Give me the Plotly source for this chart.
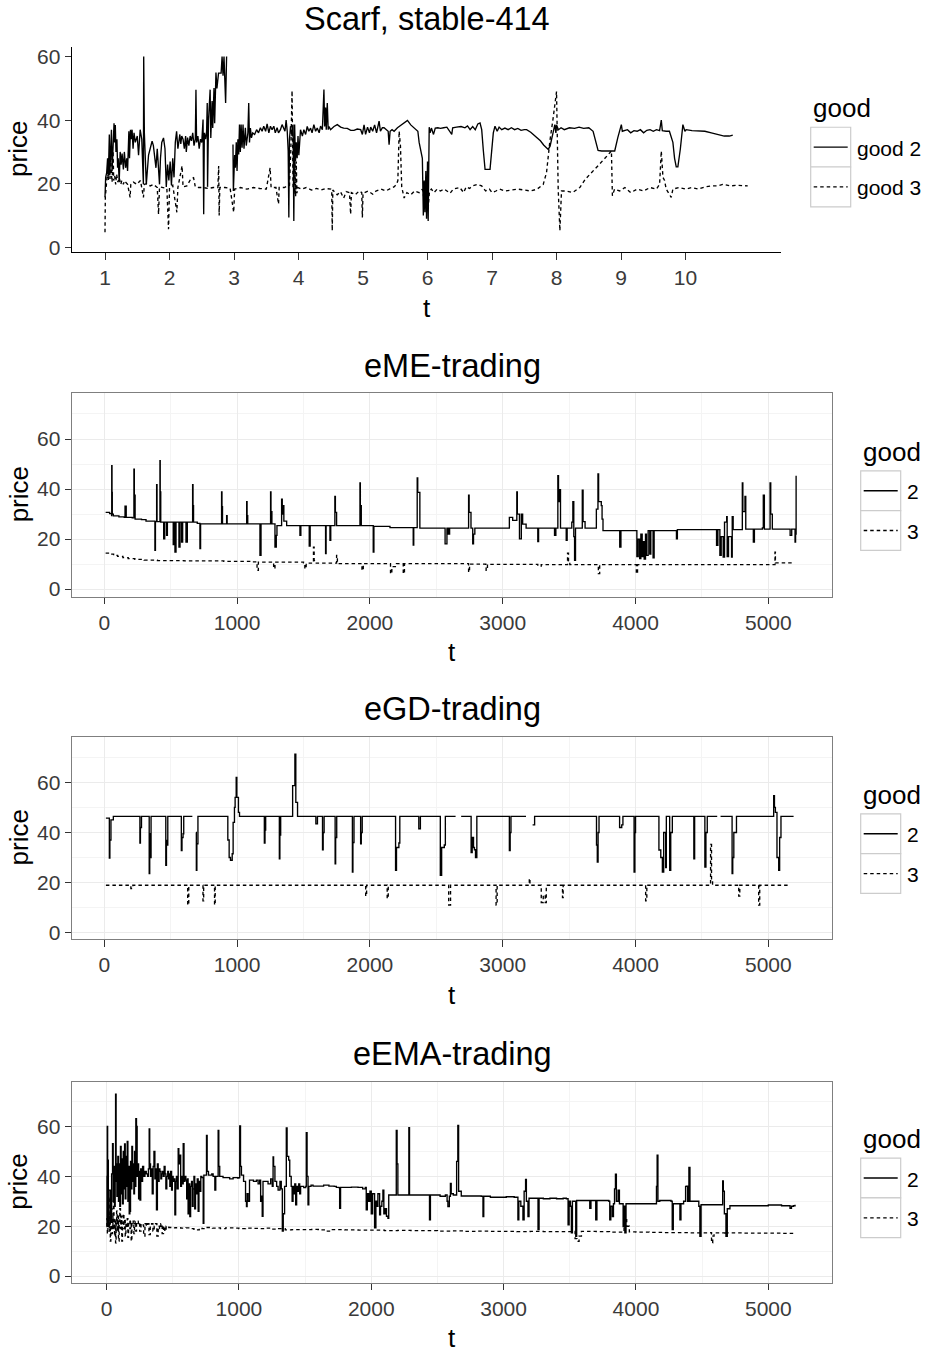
import plotly.graph_objects as go

FONT = "Liberation Sans, Arial, sans-serif"
W, H = 928, 1356

# ---------------- data (t, price) ----------------
scarf_good2 = [
    (1.000, 15.7), (1.010, 22.0), (1.026, 23.5), (1.040, 28.0), (1.052, 22.5), (1.067, 35.5), (1.075, 23.0),
    (1.090, 30.0), (1.100, 37.0), (1.110, 24.0), (1.125, 33.0), (1.140, 39.0), (1.150, 33.0), (1.160, 38.5),
    (1.170, 30.0), (1.185, 34.0), (1.195, 25.0), (1.205, 28.0), (1.220, 20.5), (1.235, 30.0), (1.250, 26.0),
    (1.265, 29.5), (1.285, 24.5), (1.300, 30.0), (1.320, 25.0), (1.337, 28.0), (1.350, 24.0), (1.370, 36.5),
    (1.380, 28.0), (1.395, 37.0), (1.405, 34.0), (1.420, 37.0), (1.435, 31.0), (1.450, 36.0), (1.470, 33.0),
    (1.500, 35.0), (1.520, 29.0), (1.545, 37.0), (1.570, 34.0), (1.595, 19.8), (1.600, 60.0), (1.610, 36.0),
    (1.640, 19.8), (1.660, 24.0), (1.675, 29.0), (1.700, 31.0), (1.730, 33.4), (1.750, 32.0), (1.770, 28.0),
    (1.790, 25.0), (1.810, 31.0), (1.830, 22.0), (1.845, 19.8), (1.860, 28.0), (1.880, 33.0), (1.907, 34.4),
    (1.930, 31.0), (1.950, 19.0), (1.970, 26.0), (1.990, 21.0), (2.010, 27.0), (2.030, 19.5), (2.050, 28.0),
    (2.070, 22.0), (2.090, 33.0), (2.110, 36.5), (2.130, 31.0), (2.160, 35.5), (2.175, 32.5), (2.190, 35.0),
    (2.210, 34.0), (2.230, 31.0), (2.250, 35.0), (2.260, 30.0), (2.280, 34.5), (2.300, 32.0), (2.320, 35.0),
    (2.340, 33.5), (2.360, 36.0), (2.380, 32.0), (2.400, 34.0), (2.410, 49.6), (2.420, 33.0), (2.440, 35.0),
    (2.460, 31.0), (2.480, 34.0), (2.500, 33.0), (2.520, 40.2), (2.530, 10.4), (2.540, 36.0), (2.560, 34.0),
    (2.575, 36.5), (2.585, 45.4), (2.590, 19.0), (2.605, 40.0), (2.630, 49.6), (2.640, 34.4), (2.660, 46.0),
    (2.670, 37.5), (2.690, 50.1), (2.700, 39.0), (2.720, 55.0), (2.735, 50.0), (2.760, 54.8), (2.800, 54.8),
    (2.815, 60.0), (2.830, 54.0), (2.845, 60.0), (2.860, 52.7), (2.870, 45.4), (2.885, 60.0), (2.900, None),
    (2.984, 32.3), (2.990, 17.7), (3.010, 29.0), (3.021, 25.0), (3.035, 33.0), (3.047, 24.0), (3.060, 34.0),
    (3.073, 29.2), (3.085, 38.6), (3.098, 30.0), (3.110, 38.6), (3.125, 31.3), (3.140, 38.6), (3.155, 31.0),
    (3.176, 37.6), (3.190, 32.0), (3.215, 36.0), (3.228, 45.4), (3.240, 33.0), (3.254, 37.5), (3.270, 34.4),
    (3.290, 36.0), (3.320, 35.5), (3.350, 37.0), (3.380, 36.0), (3.409, 37.6), (3.435, 36.5), (3.461, 38.1),
    (3.490, 36.5), (3.513, 38.8), (3.540, 36.0), (3.565, 38.1), (3.590, 37.0), (3.617, 38.1), (3.640, 36.0),
    (3.668, 37.6), (3.690, 36.0), (3.720, 37.0), (3.745, 38.6), (3.772, 37.6), (3.790, 36.5), (3.808, 40.0),
    (3.825, 36.5), (3.840, 30.3), (3.850, 9.4), (3.860, 34.0), (3.876, 38.1), (3.900, 35.0), (3.915, 38.6),
    (3.927, 8.3), (3.940, 38.6), (3.953, 27.0), (3.965, 33.0), (3.979, 28.0), (3.992, 35.0), (4.005, 29.0),
    (4.018, 33.5), (4.031, 37.0), (4.060, 35.0), (4.083, 37.0), (4.110, 35.5), (4.135, 38.0), (4.160, 36.5),
    (4.187, 37.5), (4.210, 36.0), (4.238, 38.6), (4.265, 36.5), (4.290, 37.5), (4.320, 36.0), (4.342, 38.1),
    (4.370, 37.0), (4.394, 49.6), (4.405, 38.0), (4.420, 44.0), (4.430, 37.0), (4.446, 45.4), (4.460, 37.0),
    (4.472, 38.0), (4.497, 37.0), (4.550, 38.0), (4.601, 38.6), (4.653, 37.8), (4.700, 37.5), (4.756, 37.4),
    (4.810, 36.8), (4.860, 36.8), (4.910, 37.2), (4.964, 37.0), (4.990, 35.5), (5.016, 38.5), (5.040, 35.5),
    (5.070, 37.8), (5.100, 36.0), (5.119, 37.8), (5.150, 36.5), (5.180, 38.5), (5.210, 36.0), (5.249, 39.7),
    (5.270, 36.5), (5.300, 37.6), (5.326, 37.6), (5.360, 37.0), (5.390, 36.5), (5.404, 32.3), (5.420, 36.5),
    (5.450, 37.0), (5.482, 36.5), (5.534, 37.6), (5.600, 38.5), (5.650, 39.3), (5.689, 39.9), (5.740, 38.5),
    (5.793, 37.6), (5.850, 36.5), (5.870, 33.0), (5.896, 30.3), (5.920, 28.0), (5.935, 10.0), (5.948, 21.0),
    (5.960, 11.0), (5.974, 24.0), (5.985, 9.0), (6.000, 27.0), (6.010, 8.3), (6.026, 37.8), (6.040, 36.0),
    (6.060, 37.5), (6.093, 35.5), (6.120, 37.5), (6.160, 37.6), (6.200, 37.4), (6.250, 37.6), (6.300, 37.8),
    (6.376, 35.5), (6.390, 37.6), (6.450, 37.8), (6.520, 38.0), (6.580, 37.6), (6.620, 38.2), (6.660, 37.0),
    (6.700, 38.0), (6.740, 37.0), (6.780, 38.8), (6.814, 39.1), (6.840, 37.0), (6.866, 30.3), (6.892, 24.5),
    (6.969, 24.5), (6.995, 31.3), (7.020, 36.0), (7.046, 38.1), (7.080, 36.5), (7.110, 37.8), (7.150, 37.0),
    (7.200, 37.5), (7.250, 37.0), (7.300, 37.6), (7.350, 37.0), (7.400, 37.4), (7.450, 36.8), (7.500, 37.0),
    (7.536, 37.0), (7.600, 36.2), (7.650, 35.3), (7.700, 34.5), (7.750, 33.5), (7.800, 32.2), (7.871, 30.8),
    (7.900, 31.8), (7.923, 34.0), (7.950, 37.0), (7.974, 38.6), (7.990, 36.0), (8.000, 38.5), (8.030, 37.0),
    (8.070, 37.6), (8.120, 37.0), (8.200, 37.6), (8.280, 37.4), (8.350, 37.8), (8.420, 37.4), (8.500, 37.6),
    (8.567, 36.5), (8.600, 33.5), (8.644, 30.5), (8.700, 30.3), (8.800, 30.3), (8.902, 30.3), (8.950, 34.5),
    (9.005, 38.6), (9.020, 36.5), (9.060, 36.7), (9.100, 37.0), (9.150, 36.0), (9.200, 36.7), (9.250, 36.5),
    (9.300, 37.0), (9.350, 36.0), (9.400, 36.8), (9.450, 37.0), (9.500, 36.5), (9.550, 37.0), (9.598, 36.7),
    (9.624, 40.0), (9.640, 36.7), (9.700, 36.5), (9.750, 36.5), (9.804, 33.0), (9.830, 28.0), (9.856, 25.3),
    (9.881, 25.3), (9.920, 31.0), (9.959, 38.6), (9.990, 36.5), (10.010, 37.0), (10.100, 36.7), (10.200, 36.5),
    (10.300, 36.5), (10.400, 36.0), (10.500, 35.5), (10.600, 35.0), (10.680, 35.0), (10.732, 35.3),
]

scarf_good3 = [
    (1.000, 4.7), (1.005, 15.7), (1.026, 20.9), (1.040, 24.0), (1.052, 21.0), (1.065, 25.5), (1.078, 21.5),
    (1.090, 28.0), (1.100, 23.0), (1.110, 20.5), (1.125, 30.3), (1.135, 21.0), (1.150, 22.5), (1.165, 19.8),
    (1.180, 23.0), (1.200, 20.5), (1.220, 21.9), (1.245, 19.8), (1.260, 21.0), (1.285, 19.8), (1.300, 20.9),
    (1.350, 19.8), (1.389, 15.7), (1.400, 19.8), (1.440, 20.5), (1.492, 19.8), (1.550, 21.0), (1.596, 15.7),
    (1.610, 19.8), (1.650, 20.0), (1.700, 19.3), (1.750, 19.8), (1.810, 18.8), (1.830, 10.4), (1.845, 19.0),
    (1.900, 18.8), (1.959, 18.5), (1.985, 5.7), (2.000, 18.8), (2.050, 19.5), (2.114, 11.0), (2.130, 18.8),
    (2.195, 25.6), (2.210, 19.0), (2.270, 19.3), (2.330, 21.5), (2.373, 21.9), (2.400, 19.0), (2.450, 18.8),
    (2.520, 18.8), (2.600, 18.5), (2.680, 18.8), (2.750, 18.8), (2.762, 25.6), (2.770, 10.0), (2.780, 18.8),
    (2.860, 18.8), (2.940, 18.5), (2.995, 11.0), (3.010, 18.3), (3.100, 18.8), (3.200, 18.3), (3.300, 18.8),
    (3.400, 18.5), (3.500, 18.3), (3.560, 25.0), (3.575, 18.8), (3.650, 18.8), (3.690, 13.6), (3.700, 18.8),
    (3.780, 18.8), (3.860, 19.5), (3.880, 30.0), (3.900, 49.3), (3.915, 19.0), (3.935, 16.7), (3.945, 31.0),
    (3.955, 16.0), (3.965, 27.0), (3.975, 17.0), (3.990, 18.8), (4.050, 18.3), (4.120, 18.8), (4.200, 18.0),
    (4.280, 18.5), (4.350, 18.0), (4.420, 18.5), (4.500, 18.3), (4.515, 17.7), (4.523, 5.2), (4.532, 18.0),
    (4.600, 16.5), (4.650, 17.5), (4.700, 15.5), (4.740, 17.5), (4.790, 17.2), (4.808, 10.4), (4.820, 17.2),
    (4.880, 16.5), (4.940, 17.7), (4.980, 17.2), (4.990, 9.4), (5.000, 17.0), (5.080, 17.7), (5.150, 16.7),
    (5.200, 17.7), (5.280, 18.3), (5.350, 17.7), (5.420, 18.5), (5.480, 19.0), (5.520, 19.8), (5.540, 21.0),
    (5.560, 36.5), (5.580, 32.0), (5.600, 19.0), (5.637, 15.5), (5.680, 17.2), (5.740, 16.5), (5.800, 17.7),
    (5.870, 17.2), (5.920, 18.3), (5.950, 14.0), (5.970, 12.5), (5.990, 18.3), (6.010, 12.0), (6.030, 17.7),
    (6.060, 18.3), (6.100, 17.2), (6.150, 18.3), (6.200, 17.7), (6.260, 18.3), (6.350, 17.0), (6.400, 18.3),
    (6.500, 18.8), (6.560, 17.2), (6.600, 19.0), (6.650, 18.5), (6.700, 19.3), (6.780, 19.8), (6.840, 19.3),
    (6.900, 17.7), (6.960, 18.3), (7.000, 17.2), (7.060, 17.7), (7.120, 18.3), (7.200, 17.7), (7.300, 18.0),
    (7.400, 18.3), (7.500, 18.0), (7.600, 17.7), (7.700, 18.3), (7.794, 19.8), (7.845, 23.5), (7.897, 33.4),
    (7.948, 40.7), (8.000, 49.0), (8.026, 18.3), (8.052, 5.2), (8.077, 17.7), (8.150, 17.7), (8.250, 17.2),
    (8.361, 18.8), (8.450, 21.5), (8.550, 23.5), (8.650, 25.8), (8.750, 28.0), (8.851, 30.3), (8.866, 16.2),
    (8.900, 18.3), (8.980, 17.7), (9.060, 18.8), (9.150, 17.2), (9.250, 18.3), (9.350, 17.7), (9.450, 18.8),
    (9.550, 18.3), (9.598, 19.8), (9.624, 30.3), (9.650, 22.0), (9.675, 21.0), (9.700, 18.3), (9.778, 15.7),
    (9.804, 18.3), (9.900, 18.8), (10.000, 18.3), (10.100, 18.8), (10.200, 18.3), (10.300, 19.0),
    (10.400, 19.3), (10.500, 19.3), (10.577, 19.8), (10.700, 19.3), (10.800, 19.5), (10.964, 19.3),
]

eme_good2 = [
    (10, 30.7), (40, 30.2), (55, 29.4), (56, 49.3), (58, 38.7), (60, 30.0), (68, 29.3), (110, 28.9), (150, 28.7),
    (156, 33.2), (165, 28.7), (210, 28.5), (223, 47.9), (226, 37.6), (232, 28.0), (280, 27.8), (314, 27.2),
    (380, 27.2), (381, 15.5), (385, 27.0), (394, 41.7), (397, 27.0), (419, 51.3), (421, 38.9), (425, 26.8),
    (445, 26.8), (447, 20.1), (455, 26.8), (469, 21.5), (475, 26.8), (519, 17.8), (525, 26.8), (532, 14.8),
    (540, 26.8), (562, 16.8), (570, 26.8), (582, 18.8), (590, 26.8), (615, 18.8), (625, 26.8), (665, 41.7),
    (668, 33.4), (672, 26.8), (700, 26.3), (720, 16.2), (725, 26.1), (830, 26.1), (883, 38.9), (886, 33.0),
    (890, 26.1), (921, 29.4), (925, 26.1), (1072, 35.0), (1075, 29.4), (1080, 26.1), (1160, 26.1), (1172, 13.5),
    (1180, 26.1), (1240, 26.1), (1252, 38.9), (1255, 31.0), (1262, 26.1), (1285, 16.8), (1295, 21.5),
    (1300, 25.4), (1335, 36.0), (1340, 30.0), (1348, 33.4), (1352, 27.2), (1373, 25.4), (1423, 25.4),
    (1473, 21.5), (1480, 25.4), (1500, 25.4), (1543, 17.2), (1550, 25.4), (1666, 14.2), (1670, 25.4),
    (1699, 19.5), (1705, 25.4), (1736, 37.1), (1740, 30.7), (1749, 25.4), (1900, 25.4), (1925, 42.4),
    (1928, 33.4), (1935, 25.4), (2025, 14.8), (2030, 25.1), (2151, 24.6), (2163, 24.6), (2326, 17.6),
    (2330, 24.6), (2356, 44.4), (2360, 38.7), (2376, 24.4), (2450, 24.4), (2560, 24.4), (2566, 18.1),
    (2580, 24.4), (2590, 22.0), (2600, 24.4), (2720, 24.4), (2743, 37.6), (2747, 30.7), (2761, 24.4),
    (2774, 18.1), (2780, 22.0), (2790, 24.4), (3040, 24.4), (3050, 28.7), (3075, 27.5), (3106, 38.9),
    (3110, 30.0), (3126, 20.1), (3140, 30.0), (3150, 26.0), (3176, 24.4), (3264, 19.0), (3270, 24.4),
    (3380, 24.4), (3390, 21.5), (3400, 24.4), (3415, 45.3), (3420, 35.0), (3428, 39.8), (3435, 24.4),
    (3478, 19.5), (3485, 24.4), (3520, 26.8), (3528, 35.0), (3535, 21.0), (3541, 11.5), (3548, 24.4),
    (3599, 39.6), (3605, 27.0), (3620, 24.4), (3705, 32.0), (3717, 46.0), (3722, 35.0), (3742, 33.4),
    (3748, 28.0), (3755, 23.4), (3870, 23.4), (3881, 16.8), (3890, 23.4), (4006, 23.4), (4010, 13.0),
    (4020, 20.0), (4031, 12.2), (4040, 22.0), (4050, 13.0), (4057, 19.0), (4065, 12.0), (4075, 22.0),
    (4082, 13.5), (4095, 23.4), (4107, 14.0), (4115, 23.4), (4132, 12.5), (4140, 23.4), (4300, 23.4),
    (4308, 20.1), (4315, 23.8), (4600, 23.8), (4610, 17.5), (4620, 23.8), (4635, 13.5), (4645, 21.0),
    (4660, 12.8), (4670, 26.8), (4686, 29.0), (4690, 13.0), (4700, 21.0), (4723, 12.8), (4728, 29.0),
    (4735, 23.8), (4800, 23.8), (4804, 42.4), (4808, 31.0), (4824, 37.1), (4830, 24.0), (4887, 18.8),
    (4895, 24.0), (4955, 24.5), (4962, 37.6), (4970, 24.0), (5013, 42.4), (5018, 30.0), (5030, 24.0),
    (5160, 24.0), (5164, 21.5), (5176, 24.0), (5201, 18.8), (5205, 22.0), (5209, 45.3),
]

eme_good3 = [
    (10, 14.4), (40, 14.0), (70, 13.5), (100, 13.1), (140, 12.6), (180, 12.2), (230, 11.9), (300, 11.6),
    (400, 11.4), (600, 11.3), (900, 11.1), (1100, 10.9), (1147, 10.8), (1150, 7.5), (1160, 10.8), (1272, 10.8),
    (1275, 8.2), (1285, 10.8), (1500, 10.5), (1510, 8.2), (1520, 10.4), (1575, 16.8), (1580, 11.4),
    (1590, 10.4), (1749, 13.5), (1755, 10.2), (1937, 10.2), (1940, 7.5), (1950, 10.2), (2151, 10.2),
    (2155, 6.2), (2165, 9.0), (2200, 10.2), (2251, 6.2), (2260, 10.2), (2735, 10.2), (2743, 6.8), (2750, 10.0),
    (2870, 9.9), (2875, 7.5), (2885, 9.9), (3240, 9.9), (3264, 9.2), (3290, 9.8), (3478, 9.8), (3488, 14.4),
    (3495, 11.2), (3505, 9.8), (3717, 9.8), (3720, 6.2), (3730, 9.8), (4000, 9.8), (4006, 6.2), (4015, 9.8),
    (5045, 9.8), (5050, 14.8), (5053, 10.5), (5176, 9.8),
]

egd_good2 = [
    (12, 45.7), (30, 45.7), (38, 29.8), (42, 37.0), (50, 45.0), (68, 46.4), (260, 46.4), (268, 35.8),
    (272, 42.0), (280, 46.4), (335, 46.4), (338, 23.6), (342, 39.5), (348, 30.0), (352, 46.4), (460, 46.4),
    (463, 26.9), (468, 36.8), (473, 35.0), (478, 46.4), (575, 46.4), (580, 32.8), (585, 38.0), (593, 39.5),
    (598, 46.4), (663, 46.4), (675, None), (690, 40.0), (693, 24.9), (697, 35.5), (705, 46.4), (925, 46.4),
    (930, 37.0), (940, 30.0), (950, 28.9), (963, 31.5), (970, 44.0), (980, 50.0), (985, 54.0), (993, 62.0),
    (998, 54.0), (1010, 48.0), (1018, 46.4), (1200, 46.4), (1205, 35.8), (1210, 41.0), (1215, 46.4),
    (1310, 46.4), (1318, 29.5), (1322, 39.0), (1328, 46.4), (1410, 46.4), (1418, 58.7), (1430, 58.7),
    (1435, 71.3), (1442, 52.0), (1455, 46.4), (1580, 46.4), (1593, 43.4), (1605, 46.4), (1635, 46.4),
    (1643, 33.1), (1648, 40.0), (1655, 46.4), (1730, 46.4), (1738, 27.5), (1742, 38.0), (1750, 46.4),
    (1860, 46.4), (1868, 24.2), (1872, 36.0), (1880, 46.4), (1920, 46.4), (1930, 35.5), (1935, 40.0),
    (1942, 46.4), (2185, 46.4), (2193, 24.9), (2200, 34.0), (2218, 35.8), (2225, 46.4), (2355, 46.4),
    (2368, 41.5), (2380, 46.4), (2520, 46.4), (2530, 22.9), (2540, 34.0), (2560, 35.0), (2568, 46.4),
    (2645, 46.4), (2665, None), (2687, 46.4), (2755, 46.4), (2762, 32.0), (2770, 38.0), (2780, 34.0),
    (2787, 33.1), (2795, 30.0), (2805, 46.4), (3040, 46.4), (3050, 32.8), (3056, 40.0), (3062, 46.4),
    (3175, 46.4), (3200, None), (3225, 43.0), (3240, 46.4), (3700, 46.4), (3706, 35.0), (3712, 28.2),
    (3718, 40.0), (3725, 46.4), (3870, 46.4), (3880, 42.0), (3896, 43.0), (3905, 46.4), (3985, 46.4),
    (3989, 24.2), (3995, 40.0), (4000, 46.4), (4165, 46.4), (4176, 33.0), (4190, 30.0), (4202, 24.2),
    (4212, 40.0), (4227, 26.0), (4232, 46.4), (4250, 46.4), (4257, 24.9), (4265, 40.0), (4277, 46.4),
    (4430, 46.4), (4439, 29.5), (4445, 46.4), (4515, 46.4), (4522, 26.2), (4530, 40.0), (4540, 46.4),
    (4615, 46.4), (4628, None), (4640, 46.4), (4720, 46.4), (4727, 23.6), (4732, 30.0), (4740, 40.0),
    (4760, 46.4), (5030, 46.4), (5040, 54.7), (5046, 50.0), (5053, 48.0), (5065, 30.0), (5078, 24.9),
    (5085, 38.0), (5095, 46.4), (5190, 46.4),
]

egd_good3 = [
    (12, 18.9), (190, 18.9), (200, 17.6), (215, 18.9), (620, 18.9), (628, 11.0), (636, 18.9), (740, 18.9),
    (743, 12.7), (748, 18.9), (825, 18.9), (830, 11.0), (835, 18.9), (1960, 18.9), (1968, 14.6), (1975, 18.9),
    (2120, 18.9), (2130, 13.6), (2138, 18.9), (2585, 18.9), (2593, 11.0), (2600, 11.0), (2607, 18.9),
    (2940, 18.9), (2950, 11.0), (2958, 18.9), (3195, 18.9), (3200, 21.6), (3205, 18.9), (3280, 18.9),
    (3290, 12.0), (3305, 15.0), (3320, 12.0), (3328, 18.9), (3445, 18.9), (3450, 14.0), (3455, 18.9),
    (4070, 18.9), (4076, 12.7), (4085, 18.9), (4560, 18.9), (4565, 35.2), (4572, 20.9), (4580, 18.9),
    (4770, 18.9), (4777, 14.6), (4785, 18.9), (4920, 18.9), (4927, 11.0), (4935, 18.9), (5165, 18.9),
]

eema_good2 = [
    (0, 19.9), (3, 40.0), (5, 60.0), (8, 46.5), (13, 20.0), (18, 34.5), (25, 34.5), (30, 22.0), (38, 41.0),
    (45, 53.1), (50, 30.0), (55, 44.0), (60, 28.0), (65, 38.0), (68, 73.0), (72, 45.0), (78, 32.0), (85, 48.0),
    (90, 30.0), (95, 45.0), (100, 28.0), (105, 52.0), (110, 33.0), (115, 47.0), (120, 29.0), (126, 50.0),
    (131, 35.0), (136, 53.0), (141, 31.0), (146, 48.0), (151, 36.0), (156, 54.0), (161, 30.0), (166, 44.0),
    (171, 25.0), (176, 26.0), (181, 46.0), (186, 35.0), (191, 52.0), (196, 38.0), (201, 45.0), (206, 33.0),
    (211, 50.0), (216, 36.0), (221, 63.1), (226, 60.0), (231, 40.0), (236, 45.0), (242, 31.0), (247, 42.0),
    (252, 30.5), (258, 43.0), (265, 38.0), (272, 44.0), (280, 40.0), (290, 42.0), (300, 41.0), (310, 40.0),
    (316, 43.0), (322, 59.0), (326, 45.0), (332, 40.0), (340, 43.0), (345, 33.0), (352, 44.0), (358, 50.0),
    (365, 39.0), (372, 43.0), (377, 26.6), (384, 45.0), (390, 38.0), (397, 43.0), (403, 42.0), (410, 39.0),
    (416, 41.0), (422, 42.0), (428, 40.0), (435, 44.0), (442, 41.0), (448, 35.0), (455, 40.0), (462, 42.0),
    (468, 39.0), (473, 41.0), (478, 36.0), (484, 42.0), (491, 34.5), (497, 40.0), (503, 38.0), (510, 39.0),
    (516, 24.6), (522, 38.0), (528, 40.0), (533, 35.0), (541, 51.1), (546, 45.0), (553, 48.5), (560, 36.0),
    (566, 40.0), (572, 37.0), (579, 53.1), (585, 38.0), (592, 40.0), (599, 38.5), (605, 31.0), (611, 39.0),
    (616, 25.0), (622, 37.0), (629, 23.9), (635, 36.0), (642, 38.0), (648, 28.0), (654, 35.0), (660, 40.0),
    (666, 27.0), (672, 37.0), (679, 33.0), (685, 39.0), (692, 26.0), (698, 38.0), (704, 34.0), (712, 40.0),
    (720, 39.5), (730, 21.2), (735, 40.5), (745, 40.5), (755, 56.4), (760, 42.0), (770, 40.5), (780, 40.5),
    (795, 41.0), (805, 40.0), (818, 34.5), (825, 40.0), (838, 40.0), (843, 58.4), (848, 44.0), (855, 40.0),
    (880, 39.5), (906, 39.5), (930, 39.0), (956, 39.5), (990, 39.3), (1000, 39.5), (1006, 60.2), (1012, 44.0),
    (1019, 40.5), (1035, 38.0), (1050, 30.0), (1057, 27.9), (1062, 33.0), (1069, 30.0), (1080, 38.5),
    (1094, 38.5), (1110, 38.0), (1132, 38.5), (1145, 37.0), (1157, 38.5), (1164, 30.0), (1170, 32.0),
    (1176, 24.0), (1182, 38.0), (1200, 38.0), (1220, 37.0), (1240, 39.0), (1252, 36.0), (1258, 47.8),
    (1262, 44.0), (1272, 38.0), (1285, 36.0), (1296, 34.5), (1310, 38.0), (1320, 35.0), (1328, 18.0),
    (1335, 25.0), (1345, 36.0), (1358, 59.4), (1364, 48.0), (1376, 46.5), (1384, 40.0), (1395, 36.0),
    (1402, 30.0), (1409, 36.0), (1415, 33.0), (1422, 37.0), (1429, 28.6), (1436, 36.0), (1445, 34.0),
    (1452, 37.0), (1459, 33.0), (1466, 36.0), (1475, 36.0), (1490, 35.5), (1505, 36.0), (1509, 57.5),
    (1515, 40.0), (1522, 28.6), (1528, 36.0), (1545, 36.5), (1560, 36.1), (1600, 36.1), (1640, 36.5),
    (1680, 36.1), (1720, 36.0), (1736, 35.6), (1755, 35.5), (1761, 27.2), (1768, 35.6), (1800, 35.6),
    (1850, 35.7), (1900, 35.6), (1912, 35.6), (1935, 35.0), (1955, 35.6), (1962, 26.6), (1970, 33.0),
    (1980, 30.0), (1990, 34.0), (2000, 25.0), (2010, 33.0), (2025, 19.3), (2035, 30.0), (2045, 28.0),
    (2050, 33.0), (2063, 24.6), (2070, 28.0), (2080, 30.0), (2088, 34.5), (2095, 25.0), (2105, 27.0),
    (2115, 24.0), (2126, 23.2), (2132, 32.5), (2145, 32.5), (2164, 32.5), (2183, 32.5), (2189, 58.4),
    (2195, 45.0), (2201, 32.5), (2250, 32.5), (2278, 32.5), (2284, 59.5), (2289, 32.5), (2350, 32.5),
    (2400, 32.5), (2435, 32.5), (2440, 22.6), (2447, 32.5), (2480, 32.5), (2520, 32.0), (2560, 32.5),
    (2573, 30.0), (2579, 27.9), (2590, 32.0), (2598, 37.2), (2604, 33.0), (2620, 32.5), (2640, 32.5),
    (2645, 46.0), (2654, 60.4), (2660, 34.0), (2680, 32.1), (2720, 32.1), (2780, 32.1), (2831, 32.0),
    (2844, 23.9), (2850, 32.0), (2900, 31.6), (2960, 31.6), (3020, 31.8), (3080, 31.6), (3096, 31.6),
    (3108, 22.6), (3115, 30.0), (3130, 28.0), (3146, 22.6), (3155, 34.0), (3166, 38.8), (3172, 30.0),
    (3184, 23.9), (3192, 31.2), (3250, 31.2), (3260, 18.6), (3268, 31.2), (3300, 31.0), (3350, 31.2),
    (3400, 31.0), (3450, 31.2), (3474, 31.0), (3487, 20.6), (3495, 30.0), (3505, 28.0), (3512, 17.3),
    (3520, 30.0), (3545, 15.9), (3552, 30.3), (3600, 30.3), (3651, 27.2), (3660, 30.3), (3696, 22.6),
    (3705, 30.3), (3760, 30.3), (3795, 30.0), (3802, 22.6), (3810, 28.0), (3822, 23.9), (3830, 29.0),
    (3838, 35.0), (3845, 40.9), (3852, 30.0), (3865, 34.5), (3875, 29.0), (3903, 19.9), (3910, 28.0),
    (3916, 17.3), (3925, 29.0), (3980, 29.0), (4050, 29.0), (4100, 29.0), (4150, 29.0), (4155, 36.0),
    (4160, 48.5), (4166, 30.0), (4180, 30.3), (4230, 30.3), (4265, 30.0), (4274, 18.6), (4282, 29.0),
    (4320, 29.0), (4332, 22.6), (4340, 29.0), (4360, 30.0), (4375, 36.0), (4382, 36.1), (4390, 30.0),
    (4400, 43.6), (4408, 30.0), (4440, 30.0), (4475, 28.0), (4483, 15.9), (4492, 28.6), (4550, 28.6),
    (4600, 28.6), (4647, 28.6), (4655, 38.2), (4660, 34.0), (4668, 25.0), (4680, 15.9), (4690, 27.0),
    (4710, 28.2), (4800, 28.2), (4900, 28.2), (5000, 28.5), (5100, 28.2), (5150, 28.2), (5164, 27.2),
    (5175, 28.0), (5190, 28.2), (5202, 28.6),
]

eema_good3 = [
    (0, 20.0), (3, 23.0), (6, 17.0), (10, 28.0), (13, 20.0), (16, 31.9), (20, 18.0), (24, 25.0), (28, 14.0),
    (32, 22.0), (36, 27.0), (40, 17.0), (44, 24.0), (48, 19.0), (52, 30.0), (56, 21.0), (60, 15.9), (64, 23.0),
    (68, 13.3), (72, 21.0), (76, 26.0), (80, 18.0), (85, 24.0), (90, 14.0), (95, 22.0), (100, 27.0),
    (105, 19.0), (110, 24.0), (115, 14.0), (120, 21.0), (126, 25.0), (131, 19.0), (136, 23.0), (141, 16.0),
    (146, 21.0), (151, 20.0), (156, 23.0), (161, 15.5), (166, 21.0), (171, 22.0), (176, 19.0), (181, 22.0),
    (186, 14.0), (191, 21.0), (196, 20.5), (201, 22.0), (206, 17.0), (211, 21.0), (216, 22.0), (221, 18.0),
    (226, 21.0), (231, 20.5), (240, 22.0), (250, 18.0), (260, 21.0), (270, 20.5), (280, 16.0), (290, 21.0),
    (300, 20.0), (310, 21.0), (320, 16.6), (330, 20.3), (340, 21.0), (350, 18.0), (360, 20.0), (370, 21.0),
    (380, 16.0), (390, 20.0), (400, 19.0), (410, 21.0), (420, 17.0), (430, 20.0), (440, 18.0), (450, 20.0),
    (470, 19.5), (500, 19.3), (520, 19.4), (560, 19.2), (600, 19.3), (640, 19.0), (660, 18.5), (700, 19.2),
    (720, 19.0), (760, 19.5), (800, 19.2), (830, 19.3), (860, 19.0), (900, 19.3), (960, 19.2), (1000, 19.0),
    (1050, 19.2), (1100, 19.1), (1150, 19.0), (1200, 19.2), (1250, 18.8), (1300, 19.0), (1350, 18.5),
    (1400, 18.6), (1500, 18.6), (1550, 18.7), (1600, 18.5), (1650, 18.0), (1700, 18.6), (1800, 18.5),
    (1900, 18.4), (2000, 18.4), (2100, 18.2), (2200, 18.3), (2300, 18.2), (2400, 18.2), (2500, 18.0),
    (2600, 18.1), (2700, 17.9), (2800, 18.0), (2900, 17.9), (3000, 17.9), (3100, 17.8), (3200, 17.9),
    (3300, 17.8), (3400, 17.8), (3525, 17.9), (3540, 15.0), (3555, 13.9), (3570, 16.0), (3588, 17.9),
    (3700, 17.8), (3800, 17.6), (3903, 17.8), (3910, 22.6), (3930, 20.0), (3950, 17.7), (4000, 17.6),
    (4100, 17.5), (4200, 17.4), (4300, 17.4), (4400, 17.3), (4565, 17.4), (4571, 13.3), (4580, 16.0),
    (4590, 17.3), (4665, 17.3), (4672, 16.6), (4680, 17.3), (4800, 17.2), (4900, 17.2), (5000, 17.2),
    (5100, 17.1), (5202, 17.2),
]

panel_titles = ["Scarf, stable-414", "eME-trading", "eGD-trading", "eEMA-trading"]
scarf_xticks = [1, 2, 3, 4, 5, 6, 7, 8, 9, 10]
trading_xticks = [0, 1000, 2000, 3000, 4000, 5000]
price_ticks = [0, 20, 40, 60]
legend_labels = [("good 2", "good 3"), ("2", "3"), ("2", "3"), ("2", "3")]

# ---------------- layout geometry (pixels) ----------------
panels = [
    dict(data=(scarf_good2, scarf_good3), xpx=(72.3, 781.0), ypx=(45.0, 251.7), shape="linear",
         xr=[0.493, 11.48], yr=[-1.56, 63.1], xt=scarf_xticks, classic=True, leg_x=810.7),
    dict(data=(eme_good2, eme_good3), xpx=(72.3, 831.7), ypx=(393.3, 598.3), shape="hv",
         xr=[-241, 5477], yr=[-3.05, 78.4], xt=trading_xticks, classic=False, leg_x=860.7),
    dict(data=(egd_good2, egd_good3), xpx=(72.3, 831.7), ypx=(739.0, 942.7), shape="hv",
         xr=[-241, 5477], yr=[-2.65, 78.3], xt=trading_xticks, classic=False, leg_x=860.7),
    dict(data=(eema_good2, eema_good3), xpx=(72.3, 831.7), ypx=(1086.0, 1288.3), shape="hv",
         xr=[-259, 5479], yr=[-2.66, 78.0], xt=trading_xticks, classic=False, leg_x=860.7),
]

DOT = "3.5px,3px"
TICK_COLOR = "#3a3a3a"
fig = go.Figure()
layout = dict(width=W, height=H, margin=dict(l=0, r=0, t=0, b=0), paper_bgcolor="white",
              plot_bgcolor="white", showlegend=False, font=dict(family=FONT, color="black"))
annotations, shapes = [], []


def px2x(x):
    return x / W


def px2y(y):
    return 1 - y / H


for i, p in enumerate(panels):
    n = "" if i == 0 else str(i + 1)
    xa, ya = "x" + n, "y" + n
    for series, dash in zip(p["data"], ["solid", DOT]):
        fig.add_trace(go.Scatter(
            x=[s[0] for s in series], y=[s[1] for s in series], mode="lines",
            line=dict(color="black", width=1.35, dash=dash, shape=p["shape"]), xaxis=xa, yaxis=ya,
            connectgaps=False, hoverinfo="skip"))
    x0, x1 = p["xpx"]
    y0, y1 = p["ypx"]
    common = dict(ticks="outside", ticklen=6.5, tickwidth=1.2, tickcolor="#333333",
                  tickfont=dict(family=FONT, size=21, color=TICK_COLOR), zeroline=False, fixedrange=True)
    if p["classic"]:
        xax = dict(domain=[px2x(x0), px2x(x1)], range=p["xr"], tickvals=p["xt"], showgrid=False,
                   showline=True, linecolor="black", linewidth=1.4, anchor=ya, **common)
        yax = dict(domain=[px2y(y1), px2y(y0)], range=p["yr"], tickvals=price_ticks, showgrid=False,
                   showline=True, linecolor="black", linewidth=1.4, anchor=xa, **common)
    else:
        xax = dict(domain=[px2x(x0), px2x(x1)], range=p["xr"], tickvals=p["xt"], showgrid=True,
                   gridcolor="#ebebeb", gridwidth=1.2, showline=True, mirror=True, linecolor="#7f7f7f",
                   linewidth=1.3, anchor=ya,
                   minor=dict(tickvals=[500, 1500, 2500, 3500, 4500], showgrid=True,
                              gridcolor="#f4f4f4", gridwidth=0.7, ticks=""), **common)
        yax = dict(domain=[px2y(y1), px2y(y0)], range=p["yr"], tickvals=price_ticks, showgrid=True,
                   gridcolor="#ebebeb", gridwidth=1.2, showline=True, mirror=True, linecolor="#7f7f7f",
                   linewidth=1.3, anchor=xa,
                   minor=dict(tickvals=[10, 30, 50, 70], showgrid=True, gridcolor="#f4f4f4",
                              gridwidth=0.7, ticks=""), **common)
    layout["xaxis" + n] = xax
    layout["yaxis" + n] = yax

    cx = (x0 + x1) / 2
    cy = (y0 + y1) / 2
    # panel title
    annotations.append(dict(text=panel_titles[i], x=px2x(cx), y=px2y(y0 - 27.5), xref="paper", yref="paper",
                            showarrow=False, xanchor="center", yanchor="middle",
                            font=dict(family=FONT, size=32.5, color="black")))
    # axis titles
    annotations.append(dict(text="t", x=px2x(cx), y=px2y(y1 + 56.0), xref="paper", yref="paper",
                            showarrow=False, xanchor="center", yanchor="middle",
                            font=dict(family=FONT, size=26, color="black")))
    annotations.append(dict(text="price", x=px2x(18.5), y=px2y(cy), xref="paper", yref="paper",
                            showarrow=False, xanchor="center", yanchor="middle", textangle=-90,
                            font=dict(family=FONT, size=26, color="black")))
    # legend (ggplot-style keys)
    lx = p["leg_x"]
    ktop = 126.0 if i == 0 else cy - 24.1
    annotations.append(dict(text="good", x=px2x(lx), y=px2y(ktop - 19), xref="paper", yref="paper",
                            showarrow=False, xanchor="left", yanchor="middle",
                            font=dict(family=FONT, size=26, color="black")))
    for k, (lab, dash) in enumerate(zip(legend_labels[i], ["solid", DOT])):
        by0 = ktop + 40 * k
        shapes.append(dict(type="rect", xref="paper", yref="paper", x0=px2x(lx), x1=px2x(lx + 40),
                           y0=px2y(by0 + 40), y1=px2y(by0), line=dict(color="#cccccc", width=1.2),
                           fillcolor="white", layer="above"))
        shapes.append(dict(type="line", xref="paper", yref="paper", x0=px2x(lx + 3), x1=px2x(lx + 37),
                           y0=px2y(by0 + 20), y1=px2y(by0 + 20),
                           line=dict(color="black", width=1.4, dash=dash), layer="above"))
        annotations.append(dict(text=lab, x=px2x(lx + 44), y=px2y(by0 + 21), xref="paper", yref="paper",
                                showarrow=False, xanchor="left", yanchor="middle",
                                font=dict(family=FONT, size=21, color="black")))

layout["annotations"] = annotations
layout["shapes"] = shapes
fig.update_layout(**layout)
fig.write_html("out.html")
